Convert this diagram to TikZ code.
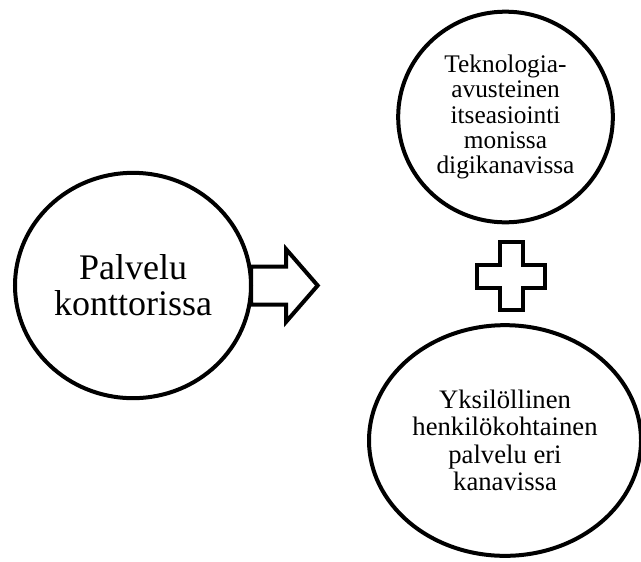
\documentclass[tikz,border=0pt]{standalone}
\usepackage{fontspec}
\setmainfont{Liberation Serif}
\usepackage{tikz}
\usetikzlibrary{shapes.geometric, shapes.arrows, positioning}
\tikzstyle{bubble} = [
    ellipse,
    inner sep=0pt,
    outer sep=0pt,
    align=center,
    line width=3pt,
    draw=black
]
\tikzstyle{blockarrow} = [
    single arrow,
    inner xsep=0pt,
    inner ysep=12.75pt,
    outer sep=0pt,
    minimum height=50pt,
    single arrow head extend=13pt,
    single arrow tip angle=98,
    line width=3pt,
    draw=black
]
\tikzstyle{plusline} = [line width=3pt, draw=black]

\begin{document}
\begin{tikzpicture}[x=0.75pt, y=-0.75pt]

\useasboundingbox (0,0) rectangle (641,561);

\node (konttori) [bubble, minimum width=177pt, minimum height=169pt,
    font=\fontsize{27}{27}\selectfont] at (133,285.5)
{Palvelu\\konttorissa};

\node (itsepalvelu) [bubble, minimum width=161pt, minimum height=158pt,
    font=\fontsize{19}{19}\selectfont] at (505.5,117)
{Teknologia-\\avusteinen\\itseasiointi\\monissa\\digikanavissa};

\node (henkilo) [bubble, minimum width=204pt, minimum height=173pt,
    font=\fontsize{20}{20.5}\selectfont] at (505,440.5)
{Yksilöllinen\\henkilökohtainen\\palvelu eri\\kanavissa};

\node (siirto) [blockarrow, right=0pt of konttori] {};

\coordinate (plus) at (511,276);
\draw [plusline, shift={(plus)}]
    (-11.5,-34) -- (11.5,-34) -- (11.5,-11.5) -- (34,-11.5)
    -- (34,11.5) -- (11.5,11.5) -- (11.5,34) -- (-11.5,34)
    -- (-11.5,11.5) -- (-34,11.5) -- (-34,-11.5) -- (-11.5,-11.5)
    -- cycle;

\end{tikzpicture}
\end{document}
